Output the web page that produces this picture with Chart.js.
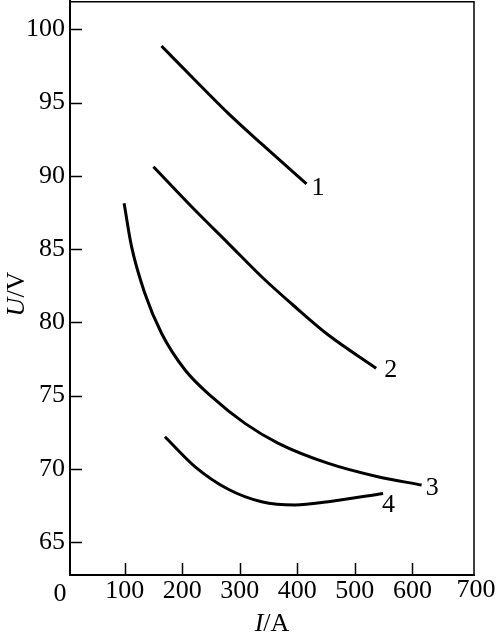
<!DOCTYPE html>
<html>
<head>
<meta charset="utf-8">
<script src="https://cdn.jsdelivr.net/npm/chart.js@4"></script>
<style>
    html, body { margin: 0; padding: 0; background: #fff; }
    #wrap { width: 498px; height: 639px; position: relative; }
</style>
</head>
<body>
<div id="wrap"><canvas id="chart"></canvas></div>
<script>
// dane
const curveNames = ['1', '2', '3', '4'];
const curve1I = [164, 222, 280, 338, 416];
const curve1U = [98.86, 96.54, 94.26, 92.17, 89.44];
const curve2I = [150, 222, 280, 338, 396, 454, 537];
const curve2U = [90.62, 87.66, 85.39, 83.11, 81.06, 79.13, 76.86];
const curve3I = [99, 112, 135, 164, 205, 251, 309, 367, 454, 540, 616];
const curve3U = [88.12, 85.16, 81.98, 79.25, 76.74, 74.92, 73.1, 71.74, 70.37, 69.46, 68.89];
const curve4I = [170, 222, 280, 338, 396, 454, 549];
const curve4U = [72.19, 70.15, 68.6, 67.75, 67.53, 67.75, 68.32];

const xTicks = [100, 200, 300, 400, 500, 600];
const yTicks = [65, 70, 75, 80, 85, 90, 95, 100];

const FONT = "'Liberation Serif', 'Times New Roman', serif";

function toPoints(xs, ys) {
    return xs.map((x, i) => ({ x: x, y: ys[i] }));
}

const curves = [
    toPoints(curve1I, curve1U),
    toPoints(curve2I, curve2U),
    toPoints(curve3I, curve3U),
    toPoints(curve4I, curve4U)
];

// przesuniecia etykiet krzywych (px)
const labelOffsets = [[11, 4], [14, 2], [10, 3], [5, 12]];

// ramka, kreski podzialki do srodka, etykiety, tytuly osi
const decorPlugin = {
    id: 'decor',
    afterDraw(chart) {
        const ctx = chart.ctx;
        const a = chart.chartArea;
        const xs = chart.scales.x;
        const ys = chart.scales.y;
        ctx.save();
        ctx.strokeStyle = '#000';
        ctx.lineWidth = 1.5;
        ctx.beginPath();
        ctx.moveTo(a.left, a.top + 0.75);
        ctx.lineTo(a.right, a.top + 0.75);
        ctx.lineTo(a.right, a.bottom);
        ctx.stroke();

        ctx.lineWidth = 1.5;
        ctx.beginPath();
        xTicks.forEach(v => {
            const px = Math.round(xs.getPixelForValue(v)) + 0.5;
            ctx.moveTo(px, a.bottom);
            ctx.lineTo(px, a.bottom - 12);
        });
        yTicks.forEach(v => {
            const py = Math.round(ys.getPixelForValue(v)) + 0.5;
            ctx.moveTo(a.left, py);
            ctx.lineTo(a.left + 12, py);
        });
        ctx.stroke();

        ctx.fillStyle = '#000';
        ctx.font = '26px ' + FONT;
        ctx.textBaseline = 'middle';
        ctx.textAlign = 'center';
        ctx.fillText('0', a.left - 10, 594);
        ctx.fillText('700', xs.getPixelForValue(700) + 6, 590);

        // etykiety krzywych
        ctx.textAlign = 'left';
        curves.forEach((pts, i) => {
            const last = pts[pts.length - 1];
            const px = xs.getPixelForValue(last.x) + labelOffsets[i][0];
            const py = ys.getPixelForValue(last.y) + labelOffsets[i][1];
            ctx.fillText(curveNames[i], px - 6, py);
        });

        // tytul osi X: I/A
        drawMixed(ctx, [['I', true], ['/A', false]], 272, 624);

        // tytul osi Y: U/V
        ctx.translate(17, 294);
        ctx.rotate(-Math.PI / 2);
        drawMixed(ctx, [['U', true], ['/V', false]], 0, 0);
        ctx.restore();
    }
};

function drawMixed(ctx, parts, cx, cy) {
    const fonts = parts.map(p => (p[1] ? 'italic ' : '') + '26px ' + FONT);
    let total = 0;
    const widths = parts.map((p, i) => {
        ctx.font = fonts[i];
        const w = ctx.measureText(p[0]).width;
        total += w;
        return w;
    });
    let x = cx - total / 2;
    ctx.textAlign = 'left';
    ctx.textBaseline = 'middle';
    parts.forEach((p, i) => {
        ctx.font = fonts[i];
        ctx.fillText(p[0], x, cy);
        x += widths[i];
    });
}

function noEdgePadding(scale) {
    scale.paddingTop = 0;
    scale.paddingBottom = 0;
    scale.paddingLeft = 0;
    scale.paddingRight = 0;
}

new Chart(document.getElementById('chart'), {
    type: 'scatter',
    data: {
        datasets: curves.map((pts, i) => ({
            label: curveNames[i],
            data: pts,
            showLine: true,
            borderColor: '#000',
            borderWidth: 3,
            pointRadius: 0,
            cubicInterpolationMode: 'monotone',
            fill: false
        }))
    },
    options: {
        responsive: true,
        maintainAspectRatio: false,
        animation: false,
        layout: {
            padding: { top: 1, right: 24, left: 0, bottom: 0 }
        },
        plugins: {
            legend: { display: false },
            tooltip: { enabled: false }
        },
        scales: {
            x: {
                type: 'linear',
                min: 5,
                max: 707,
                afterBuildTicks: (scale) => {
                    scale.ticks = xTicks.map(v => ({ value: v }));
                },
                afterFit: (scale) => { scale.height = 64; noEdgePadding(scale); },
                grid: { display: false, drawTicks: false },
                border: { display: true, color: '#000', width: 2 },
                ticks: {
                    color: '#000',
                    font: { family: FONT, size: 26 },
                    padding: 1,
                    maxRotation: 0,
                    callback: (v) => String(v)
                }
            },
            y: {
                type: 'linear',
                min: 62.75,
                max: 101.93,
                afterBuildTicks: (scale) => {
                    scale.ticks = yTicks.map(v => ({ value: v }));
                },
                afterFit: (scale) => { scale.width = 70; noEdgePadding(scale); },
                grid: { display: false, drawTicks: false },
                border: { display: true, color: '#000', width: 2 },
                ticks: {
                    color: '#000',
                    font: { family: FONT, size: 26 },
                    padding: 5,
                    callback: (v) => String(v)
                }
            }
        }
    },
    plugins: [decorPlugin]
});
</script>
</body>
</html>
